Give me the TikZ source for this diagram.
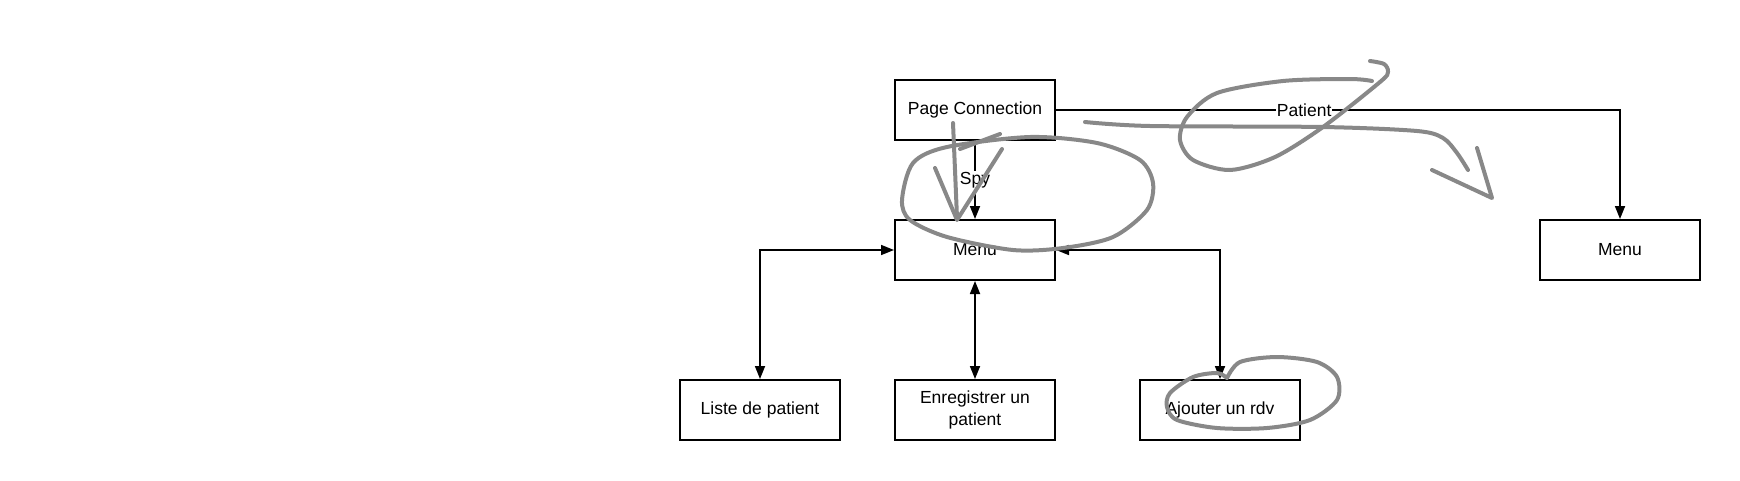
\documentclass[tikz,border=0pt]{standalone}
\usepackage{fontspec}
\setmainfont{Liberation Sans}
\usetikzlibrary{arrows.meta}
\tikzset{
  box/.style={draw=black, line width=2pt, minimum width=160pt, minimum height=60pt, inner sep=0pt, align=center, font=\fontsize{17.5}{22}\selectfont},
  conn/.style={line width=1.7pt, -{Triangle[length=13pt,width=10pt]}},
  dconn/.style={line width=1.7pt, {Triangle[length=13pt,width=10pt]}-{Triangle[length=13pt,width=10pt]}},
  lab/.style={fill=white, inner sep=1pt, font=\fontsize{17.5}{22}\selectfont},
  scribble/.style={draw=scribblegray, line width=4pt, line cap=round, line join=round}
}
\definecolor{scribblegray}{RGB}{136,136,136}
\begin{document}
\begin{tikzpicture}[x=1pt, y=-1pt]
\useasboundingbox (0,0) rectangle (1740,480);
\node[box] (pc) at (975,110) {Page Connection};
\node[box] (menu) at (975,250) {Menu};
\node[box] (menu2) at (1620,250) {Menu};
\node[box] (liste) at (760,410) {Liste de patient};
\node[box] (enreg) at (975,410) {Enregistrer un\\patient};
\node[box] (ajout) at (1220,410) {Ajouter un rdv};
\coordinate (pcorner) at (1620,110);
\draw[conn] (pc) -- node[lab]{Spy} (menu);
\draw[conn] (pc.east) -- node[lab, pos=0.44]{Patient} (pcorner) -- (menu2.north);
\draw[dconn] (liste.north) |- (menu.west);
\draw[dconn] (menu.south) -- (enreg.north);
\draw[dconn] (menu.east) -| (ajout.north);
% freehand annotations
\draw[scribble] plot[smooth] coordinates {(953,123) (955,170) (957,218)};
\draw[scribble] (935,168) -- (957,220) -- (1002,149);
\draw[scribble] (960,149) -- (1000,134);
\draw[scribble] plot[smooth cycle] coordinates {(902,200) (910,220) (947,237) (1013,250) (1063,248) (1113,237) (1147,210) (1153,183) (1140,160) (1097,143) (1030,137) (947,147) (913,163)};
\draw[scribble] plot[smooth] coordinates {(1085,122) (1150,126) (1323,127) (1417,131) (1443,138) (1457,153) (1468,170)};
\draw[scribble] (1432,170) -- (1492,198) -- (1477,148);
\draw[scribble] plot[smooth] coordinates {(1370,61) (1384,64) (1388,72) (1380,82) (1323,127) (1275,157) (1230,170) (1193,160) (1180,140) (1187,117) (1217,93) (1283,81) (1350,79) (1372,81)};
\draw[scribble] plot[smooth] coordinates {(1227,378) (1217,373) (1193,377) (1170,393) (1167,407) (1177,420) (1217,428) (1267,428) (1310,420) (1337,400) (1337,377) (1317,362) (1277,357) (1240,362) (1227,378)};
\end{tikzpicture}
\end{document}
